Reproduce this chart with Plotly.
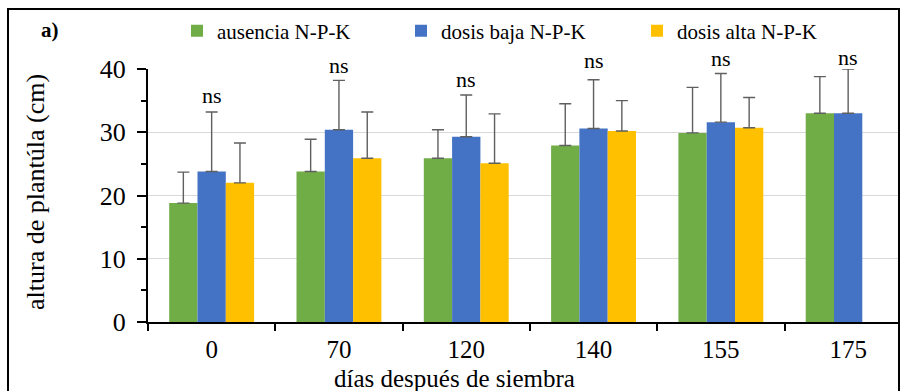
import plotly.graph_objects as go

categories = ["0", "70", "120", "140", "155", "175"]
series_names = ["ausencia N-P-K", "dosis baja N-P-K", "dosis alta N-P-K"]
ausencia = [18.8, 23.8, 25.9, 27.9, 29.9, 33.0]
ausencia_err = [4.9, 5.1, 4.5, 6.6, 7.2, 5.8]
baja = [23.8, 30.4, 29.3, 30.6, 31.6, 33.0]
baja_err = [9.4, 7.8, 6.6, 7.7, 7.7, 7.0]
alta = [22.0, 25.9, 25.1, 30.2, 30.7, None]
alta_err = [6.3, 7.3, 7.8, 4.8, 4.8, None]
ns_labels = ["ns", "ns", "ns", "ns", "ns", "ns"]
ns_y = [35.8, 40.5, 38.3, 41.4, 41.6, 41.8]

colors = ["#70AD47", "#4472C4", "#FFC000"]
FONT = "Liberation Serif"
Y_RANGE = [0, 40]

W, H = 900, 391
ML, MR, MT, MB = 148, 0, 69, 69
pw, ph = W - ML - MR, H - MT - MB
cat_px = 127.3

def px_x(px):
    return (px - ML) / pw

def px_y(py):
    return (H - MB - py) / ph

fig = go.Figure()
legends = ["legend", "legend2", "legend3"]
for name, vals, errs, col, lg in zip(series_names, [ausencia, baja, alta],
                                     [ausencia_err, baja_err, alta_err], colors, legends):
    fig.add_trace(go.Bar(
        x=categories, y=vals, name=name, legend=lg, showlegend=True,
        marker=dict(color=col, line=dict(width=0)),
        error_y=dict(type="data", array=errs, arrayminus=[0] * len(errs), symmetric=False,
                     color="#5f5f5f", thickness=1.4, width=6),
    ))

for i, (lab, yv) in enumerate(zip(ns_labels, ns_y)):
    fig.add_annotation(xref="x", yref="paper", x=i, y=(yv - Y_RANGE[0]) / (Y_RANGE[1] - Y_RANGE[0]),
                       text=lab, showarrow=False, xanchor="center", yanchor="middle",
                       font=dict(family=FONT, size=22, color="black"))

# axis titles
fig.add_annotation(xref="paper", yref="paper", x=px_x(454), y=px_y(378), text="días después de siembra",
                   showarrow=False, xanchor="center", yanchor="middle",
                   font=dict(family=FONT, size=25, color="black"))
fig.add_annotation(xref="paper", yref="paper", x=px_x(35), y=px_y(192), text="altura de plantúla (cm)",
                   showarrow=False, xanchor="center", yanchor="middle", textangle=-90,
                   font=dict(family=FONT, size=26, color="black"))
fig.add_annotation(xref="paper", yref="paper", x=px_x(39), y=px_y(30), text="<b>a)</b>",
                   showarrow=False, xanchor="left", yanchor="middle",
                   font=dict(family=FONT, size=21, color="black"))

# chart frame
fig.add_shape(type="rect", xref="paper", yref="paper", x0=px_x(8), x1=px_x(899), y0=px_y(420), y1=px_y(9),
              line=dict(color="black", width=2), fillcolor="rgba(0,0,0,0)", layer="above")

leg_common = dict(orientation="h", xanchor="left", yanchor="middle", bgcolor="rgba(0,0,0,0)",
                  font=dict(family=FONT, size=21, color="black"), borderwidth=0, visible=True)
fig.update_layout(
    width=W, height=H, showlegend=True,
    margin=dict(l=ML, r=MR, t=MT, b=MB),
    paper_bgcolor="white", plot_bgcolor="white",
    font=dict(family=FONT, color="black"),
    barmode="group", bargap=0.333, bargroupgap=0,
    legend=dict(x=px_x(177), y=px_y(31), **leg_common),
    legend2=dict(x=px_x(401), y=px_y(31), **leg_common),
    legend3=dict(x=px_x(637), y=px_y(31), **leg_common),
    xaxis=dict(type="category", range=[-0.5, -0.5 + pw / cat_px], showline=True, linecolor="black",
               linewidth=2, ticks="outside", tickson="boundaries", ticklen=7, tickwidth=2,
               tickcolor="black", showgrid=False, ticklabelstandoff=4,
               tickfont=dict(family=FONT, size=25, color="black")),
    yaxis=dict(range=Y_RANGE, dtick=10, showline=True, linecolor="black", linewidth=2,
               ticks="outside", ticklen=9, tickwidth=2, tickcolor="black",
               showgrid=True, gridcolor="#d9d9d9", gridwidth=1.3, zeroline=False,
               ticklabelstandoff=6,
               minor=dict(dtick=5, ticks="outside", ticklen=5, tickwidth=2, tickcolor="black", showgrid=False),
               tickfont=dict(family=FONT, size=26, color="black")),
)

fig.write_html("out.html")
